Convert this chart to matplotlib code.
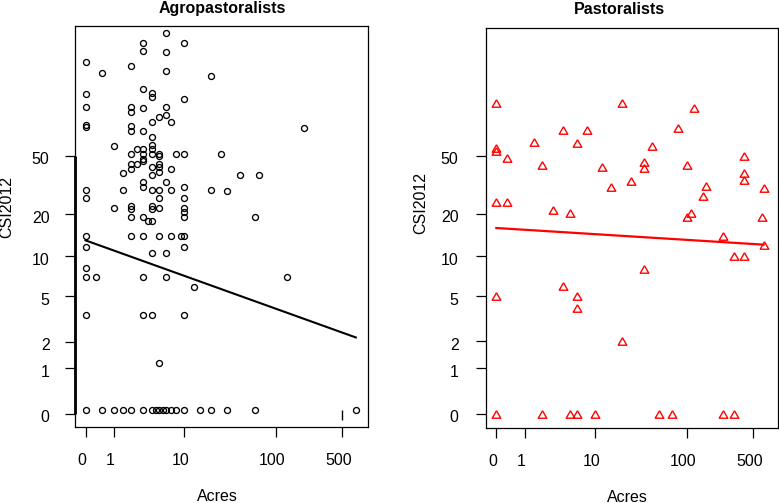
import numpy as np
import matplotlib
matplotlib.use("Agg")
import matplotlib.pyplot as plt
from matplotlib.transforms import ScaledTranslation

plt.rcParams['font.family'] = ['Liberation Sans', 'DejaVu Sans']

# ---------------- data ----------------
# Agropastoralists (Acres, CSI2012)
agro_acres = [6, 3, 10, 3, 6, 0, 2, 0.5, 6, 20,
              3, 4, 4, 10, 0, 0, 2, 2, 3, 6,
              6, 5, 4, 7, 0, 0, 2, 2, 3, 4,
              4, 1, 4, 2.5, 3, 2, 3, 4, 5, 8,
              10, 26, 3, 3, 5, 2, 2.5, 2, 1.5, 4,
              5, 5, 5, 7, 4, 3, 6, 3, 0, 0,
              1.5, 4, 5, 7, 10, 20, 5, 10, 1, 2,
              2, 4, 4, 5, 10, 10, 10, 2, 3, 3.5,
              4, 0, 2, 3, 5, 7, 9, 10, 0, 4,
              6, 10, 0, 0, 0.3, 3, 6, 13, 0, 3,
              4, 10, 5, 200, 41, 66, 30, 60, 130,
              0, 0.5, 1, 1.5, 2, 3, 4, 4.5, 5, 5.6,
              6, 7, 8, 10, 15, 20, 30, 60, 700]
agro_csi = [331, 284, 284, 252, 246, 211, 201, 180, 186, 172,
            141, 131, 124, 120, 130, 106, 106, 98, 105, 106,
            94.5, 91, 84, 84, 81, 78, 79, 74, 73, 67,
            59, 58.5, 55.6, 55.6, 55.6, 51.5, 51.5, 51.5, 51.5, 51.5,
            51.5, 51.5, 47.6, 46, 50, 44, 44, 41, 38, 42,
            44, 42, 39, 41, 37, 33, 33, 30.6, 29.3, 25.8,
            29.3, 29.3, 29.3, 29.3, 30.6, 29.3, 25.8, 25.8, 22, 22.8,
            21.7, 22.8, 21.7, 22, 22, 20.6, 19.2, 19.2, 19.2, 18,
            18, 14.1, 14.1, 14.1, 14.1, 14.1, 14.1, 14.1, 11.8, 10.6,
            10.6, 11.8, 8.2, 7, 7, 7, 7, 5.9, 3.5, 3.5,
            3.5, 3.5, 1.18, 77, 37, 37, 29, 19, 7,
            0.063, 0.063, 0.063, 0.063, 0.063, 0.063, 0.063, 0.063, 0.063, 0.063,
            0.063, 0.063, 0.063, 0.063, 0.063, 0.063, 0.063, 0.063, 0.063]
agro_fit = (1.148, -0.226)      # intercept, slope on log10(x+1) scales
agro_mark = (500, -0.017)       # stray vertical mark near the x axis

# Pastoralists (Acres, CSI2012)
past_acres = [0, 20, 4, 8, 1.5, 6, 0, 0, 0.3, 2,
              12, 25, 15, 0, 0.3, 3, 5, 4, 0, 6,
              6, 20, 0, 2, 5, 6, 10,
              120, 80, 43, 35, 35, 100, 400, 400, 400, 160,
              150, 650, 110, 100, 620, 240, 320, 400, 650, 35,
              50, 70, 240, 320]
past_csi = [112, 112, 74, 74, 62, 61, 56, 54, 48, 43,
            42, 33.5, 30.5, 24, 24, 21.4, 20.3, 6, 5, 5,
            4, 2, 0, 0, 0, 0, 0,
            104, 77, 58, 45, 41, 43, 50, 38, 34, 31,
            26.4, 30, 20.3, 19, 19, 14, 10, 10, 12, 8,
            0, 0, 0, 0]
past_fit = (1.2285, -0.0392)

x_ticks = [0, 1, 10, 100, 500]
y_ticks = [0, 1, 2, 5, 10, 20, 50]

titles = ["Agropastoralists", "Pastoralists"]
xlabel = "Acres"
ylabel = "CSI2012"


# ---------------- helpers ----------------
def fwd(v):
    v = np.asarray(v, dtype=float)
    return np.log10(np.clip(v + 1.0, 1e-9, None))


def inv(t):
    return 10.0 ** np.asarray(t, dtype=float) - 1.0


W, H = 779, 503
fig = plt.figure(figsize=(W / 100, H / 100), dpi=100)


def px_axes(l, r, t, b):
    return fig.add_axes([l / W, 1 - b / H, (r - l) / W, (b - t) / H])


ax1 = px_axes(74.5, 367.5, 25.5, 426.5)
ax2 = px_axes(485.7, 777.5, 28.0, 428.0)

FS = 11.5

for ax, xl, yl, ypad in [(ax1, (-0.1158, 2.9684), (-0.0848, 2.5709), 11.0),
                         (ax2, (-0.1116, 2.9600), (-0.0960, 2.5530), 12.5)]:
    ax.set_xscale('function', functions=(fwd, inv))
    ax.set_yscale('function', functions=(fwd, inv))
    ax.set_xlim(inv(xl[0]), inv(xl[1]))
    ax.set_ylim(inv(yl[0]), inv(yl[1]))
    ax.set_xticks(x_ticks, [str(v) for v in x_ticks])
    ax.set_yticks(y_ticks, [str(v) for v in y_ticks])
    ax.minorticks_off()
    ax.tick_params(axis='both', direction='out', length=7, width=0.9,
                   color='black', labelsize=FS, labelcolor='black')
    ax.tick_params(axis='x', pad=12)
    ax.tick_params(axis='y', pad=ypad)
    for s in ax.spines.values():
        s.set_linewidth(0.9)
        s.set_color('black')
    for lab in ax.get_xticklabels():
        lab.set_transform(lab.get_transform() +
                          ScaledTranslation(-3.5 / 100, 0, fig.dpi_scale_trans))
    for lab in ax.get_yticklabels():
        lab.set_transform(lab.get_transform() +
                          ScaledTranslation(0, -2.5 / 100, fig.dpi_scale_trans))

# Left panel
ax1.plot(agro_acres, agro_csi, linestyle='none', marker='o', ms=4.3,
         mfc='none', mec='black', mew=0.95, clip_on=False)
xs = np.array([0.0, max(agro_acres)])
ax1.plot(xs, inv(agro_fit[0] + agro_fit[1] * fwd(xs)), color='black', lw=1.5)
ax1.plot([agro_mark[0]], [agro_mark[1]], marker='|', ms=6.5, mew=1.0,
         color='black', linestyle='none')
ax1.plot([0, 0], [y_ticks[0], y_ticks[-1]], transform=ax1.get_yaxis_transform(),
         color='black', lw=2.0, clip_on=False, solid_capstyle='butt')

# Right panel
tri = [(0, 0.866), (-1, -0.866), (1, -0.866), (0, 0.866)]
ax2.plot(past_acres, past_csi, linestyle='none', marker=tri, ms=6.2,
         mfc='none', mec='#ff0000', mew=1.0, clip_on=False)
xs2 = np.array([0.0, max(past_acres)])
ax2.plot(xs2, inv(past_fit[0] + past_fit[1] * fwd(xs2)), color='#ff0000', lw=1.6)

# Titles and axis labels
fig.text(222 / W, 1 - 12.7 / H, titles[0], ha='center', va='baseline',
         fontsize=FS, fontweight='bold')
fig.text(619.3 / W, 1 - 14.0 / H, titles[1], ha='center', va='baseline',
         fontsize=FS, fontweight='bold')
fig.text(6.7 / W, 1 - 206.7 / H, ylabel, rotation=90, ha='center', va='center',
         fontsize=FS)
fig.text(420.8 / W, 1 - 203.3 / H, ylabel, rotation=90, ha='center', va='center',
         fontsize=FS)
fig.text(217.5 / W, 1 - 501.0 / H, xlabel, ha='center', va='baseline', fontsize=FS)
fig.text(627.8 / W, 1 - 501.5 / H, xlabel, ha='center', va='baseline', fontsize=FS)

fig.savefig("out.png", dpi=100)
